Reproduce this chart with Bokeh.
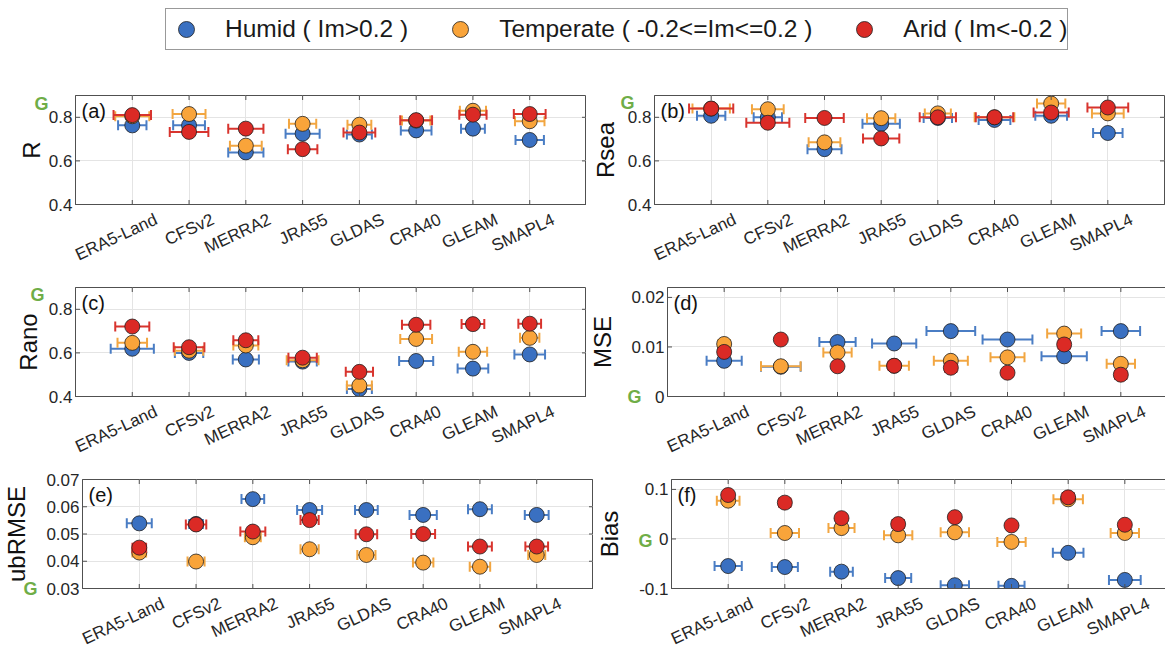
import numpy as np
from bokeh.plotting import figure
from bokeh.models import Range1d, FixedTicker, LinearAxis, Label, Legend, LegendItem
from bokeh.layouts import column, row
from bokeh.embed import file_html
from bokeh.resources import INLINE

# ---------------- data ----------------
categories = ["ERA5-Land", "CFSv2", "MERRA2", "JRA55", "GLDAS", "CRA40", "GLEAM", "SMAPL4"]
group_names = ["Humid ( Im>0.2 )", "Temperate ( -0.2<=Im<=0.2 )", "Arid ( Im<-0.2 )"]

R_humid = [0.763, 0.763, 0.639, 0.725, 0.721, 0.740, 0.748, 0.696]
R_temperate = [0.805, 0.815, 0.670, 0.770, 0.766, 0.785, 0.830, 0.782]
R_arid = [0.810, 0.733, 0.748, 0.654, 0.730, 0.787, 0.812, 0.815]
R_humid_err = [0.25, 0.28, 0.31, 0.30, 0.22, 0.27, 0.21, 0.25]
R_temperate_err = [0.30, 0.29, 0.28, 0.24, 0.21, 0.25, 0.23, 0.26]
R_arid_err = [0.33, 0.34, 0.31, 0.26, 0.28, 0.28, 0.24, 0.28]

Rsea_humid = [0.807, 0.800, 0.654, 0.770, 0.797, 0.788, 0.807, 0.728]
Rsea_temperate = [0.840, 0.837, 0.685, 0.796, 0.818, 0.800, 0.863, 0.818]
Rsea_arid = [0.840, 0.775, 0.797, 0.703, 0.800, 0.800, 0.822, 0.845]
Rsea_humid_err = [0.25, 0.25, 0.30, 0.33, 0.25, 0.28, 0.28, 0.26]
Rsea_temperate_err = [0.33, 0.28, 0.28, 0.25, 0.23, 0.35, 0.25, 0.28]
Rsea_arid_err = [0.39, 0.38, 0.34, 0.32, 0.32, 0.33, 0.31, 0.36]

Rano_humid = [0.619, 0.600, 0.570, 0.560, 0.434, 0.563, 0.528, 0.593]
Rano_temperate = [0.646, 0.610, 0.634, 0.566, 0.450, 0.664, 0.605, 0.669]
Rano_arid = [0.721, 0.626, 0.658, 0.578, 0.513, 0.729, 0.732, 0.734]
Rano_humid_err = [0.38, 0.25, 0.23, 0.25, 0.22, 0.30, 0.27, 0.27]
Rano_temperate_err = [0.26, 0.25, 0.22, 0.28, 0.22, 0.28, 0.25, 0.17]
Rano_arid_err = [0.30, 0.27, 0.22, 0.25, 0.24, 0.25, 0.20, 0.20]

MSE_humid = [0.0072, 0.0060, 0.0110, 0.0107, 0.0132, 0.0115, 0.0081, 0.0132]
MSE_temperate = [0.0106, 0.0061, 0.0089, 0.0062, 0.0072, 0.0079, 0.0127, 0.0066]
MSE_arid = [0.0090, 0.0115, 0.0061, 0.0062, 0.0058, 0.0048, 0.0105, 0.0044]
MSE_humid_err = [0.31, 0.35, 0.32, 0.39, 0.43, 0.44, 0.40, 0.34]
MSE_temperate_err = [0.10, 0.35, 0.25, 0.26, 0.30, 0.30, 0.30, 0.25]
MSE_arid_err = [0.09, 0.08, 0.08, 0.10, 0.10, 0.08, 0.10, 0.10]

ubRMSE_humid = [0.0539, 0.0537, 0.0628, 0.0588, 0.0588, 0.0570, 0.0591, 0.0570]
ubRMSE_temperate = [0.0432, 0.0399, 0.0488, 0.0444, 0.0423, 0.0395, 0.0380, 0.0423]
ubRMSE_arid = [0.0450, 0.0535, 0.0509, 0.0551, 0.0499, 0.0500, 0.0454, 0.0454]
ubRMSE_humid_err = [0.22, 0.12, 0.20, 0.22, 0.20, 0.24, 0.21, 0.21]
ubRMSE_temperate_err = [0.12, 0.15, 0.14, 0.16, 0.16, 0.18, 0.18, 0.15]
ubRMSE_arid_err = [0.12, 0.18, 0.22, 0.16, 0.19, 0.21, 0.21, 0.20]

Bias_humid = [-0.0547, -0.0567, -0.0660, -0.0790, -0.0933, -0.0947, -0.0280, -0.0827]
Bias_temperate = [0.0773, 0.0120, 0.0220, 0.0073, 0.0133, -0.0060, 0.0800, 0.0120]
Bias_arid = [0.0887, 0.0733, 0.0420, 0.0300, 0.0440, 0.0273, 0.0840, 0.0287]
Bias_humid_err = [0.24, 0.23, 0.20, 0.23, 0.25, 0.23, 0.27, 0.28]
Bias_temperate_err = [0.20, 0.25, 0.23, 0.25, 0.25, 0.25, 0.26, 0.25]
Bias_arid_err = [0.08, 0.10, 0.08, 0.10, 0.08, 0.08, 0.10, 0.08]

R_ticks = [0.4, 0.6, 0.8]
R_tick_labels = ["0.4", "0.6", "0.8"]
MSE_ticks = [0.0, 0.01, 0.02]
MSE_tick_labels = ["0", "0.01", "0.02"]
ubRMSE_ticks = [0.03, 0.04, 0.05, 0.06, 0.07]
ubRMSE_tick_labels = ["0.03", "0.04", "0.05", "0.06", "0.07"]
Bias_ticks = [-0.1, 0.0, 0.1]
Bias_tick_labels = ["-0.1", "0", "0.1"]

# ---------------- style ----------------
FONT = "Liberation Sans"
FILL = ["#3A70C1", "#F9A43A", "#DB2A25"]
BAR = ["#4A7DC4", "#F2A641", "#D8342E"]
TXT = "#262626"
FRAME = "#505050"
GREEN = "#6FAD47"
LABEL_SHIFT = 0.42     # horizontal offset of rotated category labels (style)
TICK_FS = "17px"

xs = np.arange(1, len(categories) + 1)


def panel(tag, ylabel, vals, errs, yrange, yticks, ylabels, g_y, g_standoff, label_standoff,
          left_col, top_row):
    x0, x1 = 0, len(categories) + 1
    p = figure(
        frame_width=511 if left_col else 510,
        frame_height=109,
        x_range=Range1d(x0, x1),
        y_range=Range1d(*yrange),
        output_backend="svg",
        toolbar_location=None,
        min_border_left=75 if left_col else 68,
        min_border_right=0 if left_col else 1,
        min_border_top=39 if top_row else 9,
        min_border_bottom=74,
    )
    p.background_fill_color = "white"
    p.border_fill_color = "white"
    p.outline_line_color = FRAME
    p.outline_line_width = 1

    # category axis (labels only; tick marks drawn as glyphs below)
    xa = p.xaxis[0]
    label_pos = [float(v) + LABEL_SHIFT for v in xs]
    xa.ticker = FixedTicker(ticks=label_pos)
    xa.major_label_overrides = {t: c for t, c in zip(label_pos, categories)}
    xa.major_label_orientation = np.deg2rad(25)
    xa.major_label_text_font = FONT
    xa.major_label_text_font_size = TICK_FS
    xa.major_label_text_color = TXT
    xa.major_label_standoff = 8
    xa.major_tick_line_color = None
    xa.minor_tick_line_color = None
    xa.axis_line_color = FRAME

    # value axis
    ya = p.yaxis[0]
    yt = FixedTicker(ticks=yticks)
    ya.ticker = yt
    ya.major_label_overrides = {float(t): s for t, s in zip(yticks, ylabels)}
    ya.major_label_text_font = FONT
    ya.major_label_text_font_size = TICK_FS
    ya.major_label_text_color = TXT
    ya.major_label_standoff = 3
    ya.major_tick_in = 0
    ya.major_tick_out = 0
    ya.major_tick_line_color = None
    ya.minor_tick_line_color = None
    ya.axis_line_color = FRAME

    # outer axis carrying the green "G" marker and the axis title
    ga = LinearAxis(ticker=FixedTicker(ticks=[g_y]), major_label_overrides={float(g_y): "G"})
    ga.axis_line_color = None
    ga.major_tick_line_color = None
    ga.minor_tick_line_color = None
    ga.major_tick_in = 0
    ga.major_tick_out = 0
    ga.major_label_standoff = g_standoff
    ga.major_label_text_font = FONT
    ga.major_label_text_font_size = "18px"
    ga.major_label_text_font_style = "bold"
    ga.major_label_text_color = GREEN
    ga.axis_label = ylabel
    ga.axis_label_text_font = FONT
    ga.axis_label_text_font_size = "24px"
    ga.axis_label_text_font_style = "normal"
    ga.axis_label_text_color = "#111111"
    ga.axis_label_standoff = label_standoff
    p.add_layout(ga, "left")

    p.xgrid.ticker = FixedTicker(ticks=[float(v) for v in xs])
    p.ygrid.ticker = yt
    p.grid.grid_line_color = "#e4e4e4"
    p.grid.grid_line_width = 1

    for k in range(3):
        v = np.array(vals[k], dtype=float)
        e = np.array(errs[k], dtype=float)
        p.segment(x0=xs - e, y0=v, x1=xs + e, y1=v, line_color=BAR[k], line_width=2)
        p.scatter(x=np.concatenate([xs - e, xs + e]), y=np.concatenate([v, v]),
                  marker="dash", angle=np.pi / 2, size=10, line_color=BAR[k], line_width=2)
        p.scatter(x=xs, y=v, marker="circle", size=15, fill_color=FILL[k],
                  line_color="#202020", line_width=0.8)

    # inward box ticks on all four sides (half of each dash is clipped by the frame)
    nx, ny = len(xs), len(yticks)
    p.scatter(x=np.concatenate([xs, xs]), y=[yrange[0]] * nx + [yrange[1]] * nx,
              marker="dash", angle=np.pi / 2, size=9, line_color=FRAME, line_width=1)
    p.scatter(x=[x0] * ny + [x1] * ny, y=list(yticks) + list(yticks),
              marker="dash", size=9, line_color=FRAME, line_width=1)

    p.add_layout(Label(x=0, y=yrange[1], x_offset=6, y_offset=-4, text=tag,
                       text_align="left", text_baseline="top", text_font=FONT,
                       text_font_size="20px", text_color="#111111"))
    return p


pa = panel("(a)", "R", [R_humid, R_temperate, R_arid], [R_humid_err, R_temperate_err, R_arid_err],
           (0.4, 0.9), R_ticks, R_tick_labels, 0.861, -3, -14, True, True)
pb = panel("(b)", "Rsea", [Rsea_humid, Rsea_temperate, Rsea_arid],
           [Rsea_humid_err, Rsea_temperate_err, Rsea_arid_err],
           (0.4, 0.9), R_ticks, R_tick_labels, 0.866, -10, -2, False, True)
pc = panel("(c)", "Rano", [Rano_humid, Rano_temperate, Rano_arid],
           [Rano_humid_err, Rano_temperate_err, Rano_arid_err],
           (0.4, 0.9), R_ticks, R_tick_labels, 0.865, 1, -15, True, False)
pd = panel("(d)", "MSE", [MSE_humid, MSE_temperate, MSE_arid],
           [MSE_humid_err, MSE_temperate_err, MSE_arid_err],
           (0.0, 0.022), MSE_ticks, MSE_tick_labels, 0.0, -13, 8, False, False)
pe = panel("(e)", "ubRMSE", [ubRMSE_humid, ubRMSE_temperate, ubRMSE_arid],
           [ubRMSE_humid_err, ubRMSE_temperate_err, ubRMSE_arid_err],
           (0.03, 0.07), ubRMSE_ticks, ubRMSE_tick_labels, 0.03, 6, -10, True, False)
pf = panel("(f)", "Bias", [Bias_humid, Bias_temperate, Bias_arid],
           [Bias_humid_err, Bias_temperate_err, Bias_arid_err],
           (-0.1, 0.12), Bias_ticks, Bias_tick_labels, -0.005, -16, 12, False, False)

# ---------------- legend strip ----------------
lf = figure(width=1165, height=56, x_range=Range1d(0, 1), y_range=Range1d(0, 1),
            output_backend="svg", toolbar_location=None, min_border=0)
lf.axis.visible = False
lf.grid.visible = False
lf.outline_line_color = None
lf.background_fill_color = "white"
items = []
for k in range(3):
    # proxy glyph kept outside the visible range; only its legend swatch is shown
    r = lf.scatter(x=[-1.0], y=[-1.0], marker="circle", size=16, fill_color=FILL[k],
                   line_color="#202020", line_width=0.8)
    items.append(LegendItem(label=group_names[k], renderers=[r]))
leg = Legend(items=items, orientation="horizontal", location=(165, 6),
             glyph_width=40, glyph_height=40, label_standoff=19, spacing=32,
             padding=0, margin=0, border_line_color="#333333", border_line_width=1,
             label_text_font=FONT, label_text_font_size="24.5px", label_text_color="#1a1a1a",
             background_fill_color="white", background_fill_alpha=1.0)
lf.add_layout(leg)

layout = column(lf, row(pa, pb), row(pc, pd), row(pe, pf), spacing=0)

open("out.html", "w").write(file_html(layout, INLINE))
